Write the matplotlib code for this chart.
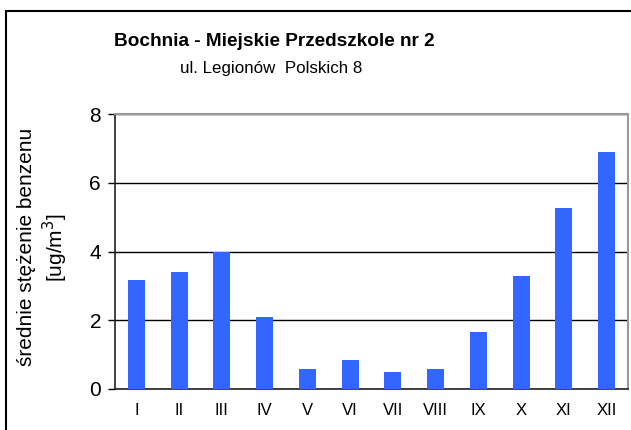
import matplotlib
matplotlib.use("Agg")
import matplotlib.pyplot as plt
from matplotlib.patches import Rectangle
import numpy as np

plt.rcParams['font.family'] = ['Liberation Sans', 'DejaVu Sans']

# monthly mean benzene concentration
months = ['I', 'II', 'III', 'IV', 'V', 'VI', 'VII', 'VIII', 'IX', 'X', 'XI', 'XII']
benzene = [3.17, 3.40, 4.00, 2.10, 0.59, 0.85, 0.50, 0.59, 1.66, 3.29, 5.26, 6.89]
yticks = [0, 2, 4, 6, 8]

title = 'Bochnia - Miejskie Przedszkole nr 2'
subtitle = 'ul. Legionów  Polskich 8'
ylabel = 'średnie stężenie benzenu\n[ug/m$^3$]'

fig = plt.figure(figsize=(6.31, 4.30), dpi=100)
ax = fig.add_axes([115/631, 41/430, 513/631, 275/430])

x = np.arange(len(months))
ax.bar(x, benzene, width=0.4, color='#3366FF', zorder=3)

ax.set_xlim(-0.5, len(months) - 0.5)
ax.set_ylim(0, 8)
ax.set_yticks(yticks)
ax.set_xticks(x)
ax.set_xticklabels(months, fontsize=12)
ax.tick_params(axis='x', length=0, pad=10)
ax.tick_params(axis='y', labelsize=15, length=5, width=1, pad=5)

ax.yaxis.grid(True, color='black', lw=1, zorder=1)
for s in ['top', 'right']:
    ax.spines[s].set_color('#999999')
    ax.spines[s].set_linewidth(1.5)
for s in ['left', 'bottom']:
    ax.spines[s].set_color('#222222')
    ax.spines[s].set_linewidth(1.2)

ax.set_ylabel(ylabel, fontsize=15, linespacing=1.2)
ax.yaxis.set_label_coords(-0.088, 0.515)

fig.text(274/631, 1 - 41/430, title, ha='center', va='center',
         fontsize=13.7, fontweight='bold')
fig.text(271/631, 1 - 68/430, subtitle, ha='center', va='center', fontsize=12.2)

# outer chart frame
fig.patches.append(Rectangle((6/631, -0.1), 1.0, 1.1 - 11/430, transform=fig.transFigure,
                             fill=False, edgecolor='black', lw=1.5))

fig.savefig('out.png', dpi=100)
